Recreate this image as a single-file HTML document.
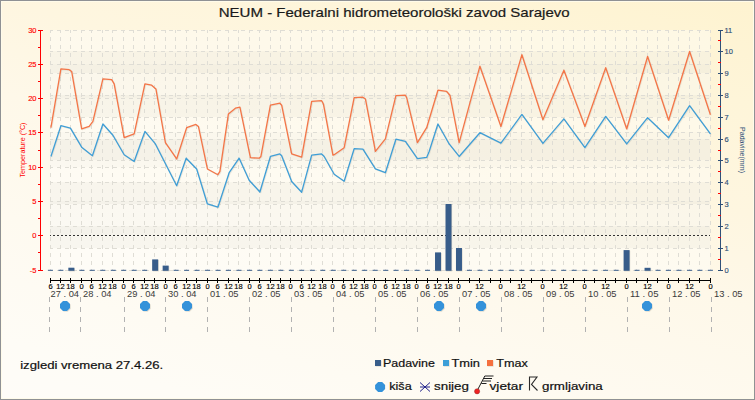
<!DOCTYPE html>
<html><head><meta charset="utf-8"><title>NEUM</title><style>
html,body{margin:0;padding:0;width:755px;height:400px;overflow:hidden;background:#fef8e9}
svg{display:block}
text{font-family:"Liberation Sans",sans-serif}
.la{font-size:7.5px;fill:#ff0000;stroke:#ff0000;stroke-width:0.15px}
.lt{font-size:7px;fill:#ff0000}
.ra{font-size:7.5px;fill:#2f5078;stroke:#2f5078;stroke-width:0.15px}
.rt{font-size:7px;fill:#2f5078}
.hl{font-size:7.5px;fill:#000;stroke:#000;stroke-width:0.15px}
.dl{font-size:9.5px;fill:#3a3a3a}
.ft{font-size:11.5px;fill:#111;stroke:#111;stroke-width:0.2px}
.lg{font-size:11.5px;fill:#111;stroke:#111;stroke-width:0.2px}
.ti{font-size:13px;fill:#1a1a1a;stroke:#1a1a1a;stroke-width:0.2px}
</style></head>
<body><svg width="755" height="400" viewBox="0 0 755 400">
<defs><linearGradient id="bg" gradientUnits="userSpaceOnUse" x1="755" y1="0" x2="592" y2="570"><stop offset="0" stop-color="#fef3d0"/><stop offset="0.17" stop-color="#fef5d9"/><stop offset="0.35" stop-color="#fef6e0"/><stop offset="0.5" stop-color="#fef8e9"/><stop offset="0.7" stop-color="#fefaf0"/><stop offset="0.9" stop-color="#fefcf6"/><stop offset="1" stop-color="#fefcf8"/></linearGradient><linearGradient id="pbg" x1="0" y1="0" x2="0" y2="1"><stop offset="0" stop-color="#fef8ea"/><stop offset="1" stop-color="#fefcf4"/></linearGradient></defs>
<rect x="0" y="0" width="755" height="400" fill="url(#bg)"/>
<rect x="50.0" y="30.0" width="660.0" height="240.0" fill="#ffffff" fill-opacity="0.38"/>
<rect x="50.0" y="51" width="660.0" height="22" fill="#303020" fill-opacity="0.03"/>
<rect x="50.0" y="95" width="660.0" height="22" fill="#303020" fill-opacity="0.03"/>
<rect x="50.0" y="139" width="660.0" height="21" fill="#303020" fill-opacity="0.03"/>
<rect x="50.0" y="182" width="660.0" height="22" fill="#303020" fill-opacity="0.03"/>
<rect x="50.0" y="226" width="660.0" height="22" fill="#303020" fill-opacity="0.03"/>
<rect x="50.0" y="64" width="660.0" height="34" fill="#303020" fill-opacity="0.017"/>
<rect x="50.0" y="132" width="660.0" height="35" fill="#303020" fill-opacity="0.017"/>
<rect x="50.0" y="201" width="660.0" height="34" fill="#303020" fill-opacity="0.017"/>
<path d="M50.5 30.0V270.0M60.5 30.0V270.0M70.5 30.0V270.0M81.5 30.0V270.0M91.5 30.0V270.0M102.5 30.0V270.0M112.5 30.0V270.0M123.5 30.0V270.0M133.5 30.0V270.0M144.5 30.0V270.0M154.5 30.0V270.0M165.5 30.0V270.0M175.5 30.0V270.0M186.5 30.0V270.0M196.5 30.0V270.0M207.5 30.0V270.0M217.5 30.0V270.0M228.5 30.0V270.0M238.5 30.0V270.0M249.5 30.0V270.0M259.5 30.0V270.0M270.5 30.0V270.0M280.5 30.0V270.0M290.5 30.0V270.0M301.5 30.0V270.0M311.5 30.0V270.0M322.5 30.0V270.0M332.5 30.0V270.0M343.5 30.0V270.0M353.5 30.0V270.0M364.5 30.0V270.0M374.5 30.0V270.0M385.5 30.0V270.0M395.5 30.0V270.0M406.5 30.0V270.0M416.5 30.0V270.0M427.5 30.0V270.0M437.5 30.0V270.0M448.5 30.0V270.0M458.5 30.0V270.0M469.5 30.0V270.0M479.5 30.0V270.0M490.5 30.0V270.0M500.5 30.0V270.0M510.5 30.0V270.0M521.5 30.0V270.0M531.5 30.0V270.0M542.5 30.0V270.0M552.5 30.0V270.0M563.5 30.0V270.0M573.5 30.0V270.0M584.5 30.0V270.0M594.5 30.0V270.0M605.5 30.0V270.0M615.5 30.0V270.0M626.5 30.0V270.0M636.5 30.0V270.0M647.5 30.0V270.0M657.5 30.0V270.0M668.5 30.0V270.0M678.5 30.0V270.0M689.5 30.0V270.0M699.5 30.0V270.0M710.5 30.0V270.0" stroke="#dfddd5" stroke-width="1" fill="none" stroke-dasharray="4 4" stroke-dashoffset="1"/>
<path d="M50.0 30.5H710.0M50.0 51.5H710.0M50.0 64.5H710.0M50.0 73.5H710.0M50.0 95.5H710.0M50.0 98.5H710.0M50.0 117.5H710.0M50.0 132.5H710.0M50.0 139.5H710.0M50.0 160.5H710.0M50.0 167.5H710.0M50.0 182.5H710.0M50.0 201.5H710.0M50.0 204.5H710.0M50.0 226.5H710.0M50.0 248.5H710.0M50.0 270.5H710.0" stroke="#dfddd5" stroke-width="1" fill="none" stroke-dasharray="4 4" stroke-dashoffset="1"/>
<path d="M50.0 235.5H710.0" stroke="#333" stroke-width="1" stroke-dasharray="2 2" stroke-dashoffset="1"/>
<rect x="47.90" y="269.80" width="5" height="1.00" fill="#385d8a"/>
<rect x="58.38" y="269.80" width="5" height="1.00" fill="#385d8a"/>
<rect x="68.95" y="268.30" width="6" height="3.10" fill="#b8b4a8" opacity="0.5"/>
<rect x="68.35" y="267.70" width="6" height="3.10" fill="#385d8a"/>
<rect x="79.33" y="269.80" width="5" height="1.00" fill="#385d8a"/>
<rect x="89.80" y="269.80" width="5" height="1.00" fill="#385d8a"/>
<rect x="100.28" y="269.80" width="5" height="1.00" fill="#385d8a"/>
<rect x="110.76" y="269.80" width="5" height="1.00" fill="#385d8a"/>
<rect x="121.23" y="269.80" width="5" height="1.00" fill="#385d8a"/>
<rect x="131.71" y="269.80" width="5" height="1.00" fill="#385d8a"/>
<rect x="142.19" y="269.80" width="5" height="1.00" fill="#385d8a"/>
<rect x="152.76" y="260.00" width="6" height="11.40" fill="#b8b4a8" opacity="0.5"/>
<rect x="152.16" y="259.40" width="6" height="11.40" fill="#385d8a"/>
<rect x="163.24" y="266.20" width="6" height="5.20" fill="#b8b4a8" opacity="0.5"/>
<rect x="162.64" y="265.60" width="6" height="5.20" fill="#385d8a"/>
<rect x="173.61" y="269.80" width="5" height="1.00" fill="#385d8a"/>
<rect x="184.09" y="269.80" width="5" height="1.00" fill="#385d8a"/>
<rect x="194.57" y="269.80" width="5" height="1.00" fill="#385d8a"/>
<rect x="205.04" y="269.80" width="5" height="1.00" fill="#385d8a"/>
<rect x="215.52" y="269.80" width="5" height="1.00" fill="#385d8a"/>
<rect x="226.00" y="269.80" width="5" height="1.00" fill="#385d8a"/>
<rect x="236.47" y="269.80" width="5" height="1.00" fill="#385d8a"/>
<rect x="246.95" y="269.80" width="5" height="1.00" fill="#385d8a"/>
<rect x="257.42" y="269.80" width="5" height="1.00" fill="#385d8a"/>
<rect x="267.90" y="269.80" width="5" height="1.00" fill="#385d8a"/>
<rect x="278.38" y="269.80" width="5" height="1.00" fill="#385d8a"/>
<rect x="288.85" y="269.80" width="5" height="1.00" fill="#385d8a"/>
<rect x="299.33" y="269.80" width="5" height="1.00" fill="#385d8a"/>
<rect x="309.80" y="269.80" width="5" height="1.00" fill="#385d8a"/>
<rect x="320.28" y="269.80" width="5" height="1.00" fill="#385d8a"/>
<rect x="330.76" y="269.80" width="5" height="1.00" fill="#385d8a"/>
<rect x="341.23" y="269.80" width="5" height="1.00" fill="#385d8a"/>
<rect x="351.71" y="269.80" width="5" height="1.00" fill="#385d8a"/>
<rect x="362.19" y="269.80" width="5" height="1.00" fill="#385d8a"/>
<rect x="372.66" y="269.80" width="5" height="1.00" fill="#385d8a"/>
<rect x="383.14" y="269.80" width="5" height="1.00" fill="#385d8a"/>
<rect x="393.61" y="269.80" width="5" height="1.00" fill="#385d8a"/>
<rect x="404.09" y="269.80" width="5" height="1.00" fill="#385d8a"/>
<rect x="414.57" y="269.80" width="5" height="1.00" fill="#385d8a"/>
<rect x="425.04" y="269.80" width="5" height="1.00" fill="#385d8a"/>
<rect x="435.62" y="253.00" width="6" height="18.40" fill="#b8b4a8" opacity="0.5"/>
<rect x="435.02" y="252.40" width="6" height="18.40" fill="#385d8a"/>
<rect x="446.10" y="204.60" width="6" height="66.80" fill="#b8b4a8" opacity="0.5"/>
<rect x="445.50" y="204.00" width="6" height="66.80" fill="#385d8a"/>
<rect x="456.57" y="248.60" width="6" height="22.80" fill="#b8b4a8" opacity="0.5"/>
<rect x="455.97" y="248.00" width="6" height="22.80" fill="#385d8a"/>
<rect x="466.95" y="269.80" width="5" height="1.00" fill="#385d8a"/>
<rect x="477.42" y="269.80" width="5" height="1.00" fill="#385d8a"/>
<rect x="487.90" y="269.80" width="5" height="1.00" fill="#385d8a"/>
<rect x="498.38" y="269.80" width="5" height="1.00" fill="#385d8a"/>
<rect x="508.85" y="269.80" width="5" height="1.00" fill="#385d8a"/>
<rect x="519.33" y="269.80" width="5" height="1.00" fill="#385d8a"/>
<rect x="529.80" y="269.80" width="5" height="1.00" fill="#385d8a"/>
<rect x="540.28" y="269.80" width="5" height="1.00" fill="#385d8a"/>
<rect x="550.76" y="269.80" width="5" height="1.00" fill="#385d8a"/>
<rect x="561.23" y="269.80" width="5" height="1.00" fill="#385d8a"/>
<rect x="571.71" y="269.80" width="5" height="1.00" fill="#385d8a"/>
<rect x="582.19" y="269.80" width="5" height="1.00" fill="#385d8a"/>
<rect x="592.66" y="269.80" width="5" height="1.00" fill="#385d8a"/>
<rect x="603.14" y="269.80" width="5" height="1.00" fill="#385d8a"/>
<rect x="613.61" y="269.80" width="5" height="1.00" fill="#385d8a"/>
<rect x="624.19" y="250.70" width="6" height="20.70" fill="#b8b4a8" opacity="0.5"/>
<rect x="623.59" y="250.10" width="6" height="20.70" fill="#385d8a"/>
<rect x="634.57" y="269.80" width="5" height="1.00" fill="#385d8a"/>
<rect x="645.14" y="268.40" width="6" height="3.00" fill="#b8b4a8" opacity="0.5"/>
<rect x="644.54" y="267.80" width="6" height="3.00" fill="#385d8a"/>
<rect x="655.52" y="269.80" width="5" height="1.00" fill="#385d8a"/>
<rect x="666.00" y="269.80" width="5" height="1.00" fill="#385d8a"/>
<rect x="676.47" y="269.80" width="5" height="1.00" fill="#385d8a"/>
<rect x="686.95" y="269.80" width="5" height="1.00" fill="#385d8a"/>
<rect x="697.42" y="269.80" width="5" height="1.00" fill="#385d8a"/>
<rect x="707.90" y="269.80" width="5" height="1.00" fill="#385d8a"/>
<polyline points="51.70,157.15 61.70,126.40 71.20,128.90 82.45,147.90 93.20,156.40 103.70,124.65 113.70,135.90 124.95,155.40 134.95,162.15 145.70,132.15 156.20,144.65 177.45,186.40 186.95,158.90 197.45,169.65 208.20,204.65 218.70,207.90 229.95,173.40 239.95,158.90 249.95,180.90 260.70,192.65 271.20,157.15 280.70,154.65 282.45,156.40 292.45,182.15 302.45,192.90 312.45,155.90 322.45,154.65 324.95,157.15 334.95,174.90 344.95,181.90 354.95,149.40 363.70,149.90 376.20,169.65 386.20,173.40 396.70,139.90 406.20,142.15 418.20,159.40 427.45,158.15 429.95,152.15 438.70,124.65 449.95,144.65 459.95,157.15 480.70,133.40 501.70,143.90 522.70,115.15 543.70,144.15 564.70,119.65 585.70,148.40 606.50,117.15 627.50,144.65 648.40,118.40 669.40,138.40 690.40,106.40 711.20,134.65" fill="none" stroke="#c0b8a8" stroke-opacity="0.3" stroke-width="1.3" stroke-linejoin="round"/>
<polyline points="50.90,156.45 60.90,125.70 70.40,128.20 81.65,147.20 92.40,155.70 102.90,123.95 112.90,135.20 124.15,154.70 134.15,161.45 144.90,131.45 155.40,143.95 176.65,185.70 186.15,158.20 196.65,168.95 207.40,203.95 217.90,207.20 229.15,172.70 239.15,158.20 249.15,180.20 259.90,191.95 270.40,156.45 279.90,153.95 281.65,155.70 291.65,181.45 301.65,192.20 311.65,155.20 321.65,153.95 324.15,156.45 334.15,174.20 344.15,181.20 354.15,148.70 362.90,149.20 375.40,168.95 385.40,172.70 395.90,139.20 405.40,141.45 417.40,158.70 426.65,157.45 429.15,151.45 437.90,123.95 449.15,143.95 459.15,156.45 479.90,132.70 500.90,143.20 521.90,114.45 542.90,143.45 563.90,118.95 584.90,147.70 605.70,116.45 626.70,143.95 647.60,117.70 668.60,137.70 689.60,105.70 710.40,133.95" fill="none" stroke="#3f9ed6" stroke-width="1.3" stroke-linejoin="round"/>
<polyline points="51.70,128.40 61.70,69.65 69.95,70.40 72.45,72.15 82.45,129.65 89.95,127.15 93.70,122.15 103.70,79.65 112.45,80.40 114.95,84.65 124.95,138.40 134.95,134.65 145.70,84.65 152.45,85.90 156.70,89.65 166.20,143.40 177.45,159.65 187.45,128.40 196.70,125.15 199.20,127.15 208.20,169.65 218.70,175.40 220.70,172.15 229.20,114.65 236.20,108.90 240.70,107.90 251.20,158.40 259.95,158.90 261.70,157.15 271.20,105.90 280.70,103.90 282.45,105.90 292.45,154.65 302.45,157.90 312.45,102.15 322.45,101.40 324.20,104.65 333.70,155.90 334.95,155.40 344.95,148.40 354.95,98.40 363.70,97.90 366.20,99.65 376.20,152.15 386.20,139.65 396.70,96.40 406.20,95.90 407.45,98.40 418.20,143.40 427.45,128.40 438.70,90.90 447.45,92.15 450.70,95.90 459.95,143.40 480.70,66.90 501.70,127.15 522.70,55.40 543.70,120.40 564.70,70.90 585.70,127.15 606.50,68.40 627.50,129.65 648.40,57.15 669.40,120.90 690.40,52.15 711.20,115.40" fill="none" stroke="#c0b8a8" stroke-opacity="0.3" stroke-width="1.3" stroke-linejoin="round"/>
<polyline points="50.90,127.70 60.90,68.95 69.15,69.70 71.65,71.45 81.65,128.95 89.15,126.45 92.90,121.45 102.90,78.95 111.65,79.70 114.15,83.95 124.15,137.70 134.15,133.95 144.90,83.95 151.65,85.20 155.90,88.95 165.40,142.70 176.65,158.95 186.65,127.70 195.90,124.45 198.40,126.45 207.40,168.95 217.90,174.70 219.90,171.45 228.40,113.95 235.40,108.20 239.90,107.20 250.40,157.70 259.15,158.20 260.90,156.45 270.40,105.20 279.90,103.20 281.65,105.20 291.65,153.95 301.65,157.20 311.65,101.45 321.65,100.70 323.40,103.95 332.90,155.20 334.15,154.70 344.15,147.70 354.15,97.70 362.90,97.20 365.40,98.95 375.40,151.45 385.40,138.95 395.90,95.70 405.40,95.20 406.65,97.70 417.40,142.70 426.65,127.70 437.90,90.20 446.65,91.45 449.90,95.20 459.15,142.70 479.90,66.20 500.90,126.45 521.90,54.70 542.90,119.70 563.90,70.20 584.90,126.45 605.70,67.70 626.70,128.95 647.60,56.45 668.60,120.20 689.60,51.45 710.40,114.70" fill="none" stroke="#f47547" stroke-width="1.3" stroke-linejoin="round"/>
<path d="M40.5 30V271" stroke="#ff0000" stroke-width="1"/>
<path d="M38 270.5H43M38 235.5H43M38 201.5H43M38 167.5H43M38 132.5H43M38 98.5H43M38 64.5H43M38 30.5H43M38 252.5H40M38 218.5H40M38 184.5H40M38 150.5H40M38 115.5H40M38 81.5H40M38 47.5H40" stroke="#ff0000" stroke-width="1"/>
<text x="36.5" y="273.2" text-anchor="end" class="la">-5</text>
<text x="36.5" y="238.2" text-anchor="end" class="la">0</text>
<text x="36.5" y="204.2" text-anchor="end" class="la">5</text>
<text x="36.5" y="170.2" text-anchor="end" class="la">10</text>
<text x="36.5" y="135.2" text-anchor="end" class="la">15</text>
<text x="36.5" y="101.2" text-anchor="end" class="la">20</text>
<text x="36.5" y="67.2" text-anchor="end" class="la">25</text>
<text x="36.5" y="33.2" text-anchor="end" class="la">30</text>
<text transform="translate(25.3,150) rotate(-90)" text-anchor="middle" class="lt" textLength="55" lengthAdjust="spacingAndGlyphs">Temperature (°C)</text>
<path d="M720.5 30V271" stroke="#2f5078" stroke-width="1"/>
<path d="M718 270.5H723M718 248.5H723M718 226.5H723M718 204.5H723M718 182.5H723M718 160.5H723M718 139.5H723M718 117.5H723M718 95.5H723M718 73.5H723M718 51.5H723M718 30.5H723" stroke="#2f5078" stroke-width="1"/>
<path d="M718 259.5H721M718 237.5H721M718 215.5H721M718 193.5H721M718 171.5H721M718 150.5H721M718 128.5H721M718 106.5H721M718 84.5H721M718 62.5H721M718 40.5H721" stroke="#ff0000" stroke-width="1"/>
<text x="724.5" y="273.1" class="ra">0</text>
<text x="724.5" y="251.1" class="ra">1</text>
<text x="724.5" y="229.1" class="ra">2</text>
<text x="724.5" y="207.1" class="ra">3</text>
<text x="724.5" y="185.1" class="ra">4</text>
<text x="724.5" y="163.1" class="ra">5</text>
<text x="724.5" y="142.1" class="ra">6</text>
<text x="724.5" y="120.1" class="ra">7</text>
<text x="724.5" y="98.1" class="ra">8</text>
<text x="724.5" y="76.1" class="ra">9</text>
<text x="724.5" y="54.1" class="ra">10</text>
<text x="724.5" y="33.1" class="ra">11</text>
<text transform="translate(740,150) rotate(90)" text-anchor="middle" class="rt" textLength="46" lengthAdjust="spacingAndGlyphs">Padavine(mm)</text>
<path d="M50.0 280.5H711.0" stroke="#000" stroke-width="1"/>
<path d="M50.5 278V283M60.5 278V283M70.5 278V283M81.5 278V283M91.5 278V283M102.5 278V283M112.5 278V283M123.5 278V283M133.5 278V283M144.5 278V283M154.5 278V283M165.5 278V283M175.5 278V283M186.5 278V283M196.5 278V283M207.5 278V283M217.5 278V283M228.5 278V283M238.5 278V283M249.5 278V283M259.5 278V283M270.5 278V283M280.5 278V283M290.5 278V283M301.5 278V283M311.5 278V283M322.5 278V283M332.5 278V283M343.5 278V283M353.5 278V283M364.5 278V283M374.5 278V283M385.5 278V283M395.5 278V283M406.5 278V283M416.5 278V283M427.5 278V283M437.5 278V283M448.5 278V283M458.5 278V283M469.5 278V283M479.5 278V283M490.5 278V283M500.5 278V283M510.5 278V283M521.5 278V283M531.5 278V283M542.5 278V283M552.5 278V283M563.5 278V283M573.5 278V283M584.5 278V283M594.5 278V283M605.5 278V283M615.5 278V283M626.5 278V283M636.5 278V283M647.5 278V283M657.5 278V283M668.5 278V283M678.5 278V283M689.5 278V283M699.5 278V283M710.5 278V283" stroke="#000" stroke-width="1"/>
<text x="50.50" y="288.6" text-anchor="middle" class="hl">6</text>
<text x="60.50" y="288.6" text-anchor="middle" class="hl">12</text>
<text x="70.50" y="288.6" text-anchor="middle" class="hl">18</text>
<text x="81.50" y="288.6" text-anchor="middle" class="hl">0</text>
<text x="91.50" y="288.6" text-anchor="middle" class="hl">6</text>
<text x="102.50" y="288.6" text-anchor="middle" class="hl">12</text>
<text x="112.50" y="288.6" text-anchor="middle" class="hl">18</text>
<text x="123.50" y="288.6" text-anchor="middle" class="hl">0</text>
<text x="133.50" y="288.6" text-anchor="middle" class="hl">6</text>
<text x="144.50" y="288.6" text-anchor="middle" class="hl">12</text>
<text x="154.50" y="288.6" text-anchor="middle" class="hl">18</text>
<text x="165.50" y="288.6" text-anchor="middle" class="hl">0</text>
<text x="175.50" y="288.6" text-anchor="middle" class="hl">6</text>
<text x="186.50" y="288.6" text-anchor="middle" class="hl">12</text>
<text x="196.50" y="288.6" text-anchor="middle" class="hl">18</text>
<text x="207.50" y="288.6" text-anchor="middle" class="hl">0</text>
<text x="217.50" y="288.6" text-anchor="middle" class="hl">6</text>
<text x="228.50" y="288.6" text-anchor="middle" class="hl">12</text>
<text x="238.50" y="288.6" text-anchor="middle" class="hl">18</text>
<text x="249.50" y="288.6" text-anchor="middle" class="hl">0</text>
<text x="259.50" y="288.6" text-anchor="middle" class="hl">6</text>
<text x="270.50" y="288.6" text-anchor="middle" class="hl">12</text>
<text x="280.50" y="288.6" text-anchor="middle" class="hl">18</text>
<text x="290.50" y="288.6" text-anchor="middle" class="hl">0</text>
<text x="301.50" y="288.6" text-anchor="middle" class="hl">6</text>
<text x="311.50" y="288.6" text-anchor="middle" class="hl">12</text>
<text x="322.50" y="288.6" text-anchor="middle" class="hl">18</text>
<text x="332.50" y="288.6" text-anchor="middle" class="hl">0</text>
<text x="343.50" y="288.6" text-anchor="middle" class="hl">6</text>
<text x="353.50" y="288.6" text-anchor="middle" class="hl">12</text>
<text x="364.50" y="288.6" text-anchor="middle" class="hl">18</text>
<text x="374.50" y="288.6" text-anchor="middle" class="hl">0</text>
<text x="385.50" y="288.6" text-anchor="middle" class="hl">6</text>
<text x="395.50" y="288.6" text-anchor="middle" class="hl">12</text>
<text x="406.50" y="288.6" text-anchor="middle" class="hl">18</text>
<text x="416.50" y="288.6" text-anchor="middle" class="hl">0</text>
<text x="427.50" y="288.6" text-anchor="middle" class="hl">6</text>
<text x="437.50" y="288.6" text-anchor="middle" class="hl">12</text>
<text x="448.50" y="288.6" text-anchor="middle" class="hl">18</text>
<text x="458.50" y="288.6" text-anchor="middle" class="hl">0</text>
<text x="479.50" y="288.6" text-anchor="middle" class="hl">12</text>
<text x="500.50" y="288.6" text-anchor="middle" class="hl">0</text>
<text x="521.50" y="288.6" text-anchor="middle" class="hl">12</text>
<text x="542.50" y="288.6" text-anchor="middle" class="hl">0</text>
<text x="563.50" y="288.6" text-anchor="middle" class="hl">12</text>
<text x="584.50" y="288.6" text-anchor="middle" class="hl">0</text>
<text x="605.50" y="288.6" text-anchor="middle" class="hl">12</text>
<text x="626.50" y="288.6" text-anchor="middle" class="hl">0</text>
<text x="647.50" y="288.6" text-anchor="middle" class="hl">12</text>
<text x="668.50" y="288.6" text-anchor="middle" class="hl">0</text>
<text x="689.50" y="288.6" text-anchor="middle" class="hl">12</text>
<text x="710.50" y="288.6" text-anchor="middle" class="hl">0</text>
<text x="50.50" y="296.6" class="dl" textLength="28.5" lengthAdjust="spacingAndGlyphs">27 . 04</text>
<text x="83.00" y="296.6" class="dl" textLength="28.5" lengthAdjust="spacingAndGlyphs">28 . 04</text>
<text x="127.00" y="296.6" class="dl" textLength="28.5" lengthAdjust="spacingAndGlyphs">29 . 04</text>
<text x="168.00" y="296.6" class="dl" textLength="28.5" lengthAdjust="spacingAndGlyphs">30 . 04</text>
<text x="210.00" y="296.6" class="dl" textLength="28.5" lengthAdjust="spacingAndGlyphs">01 . 05</text>
<text x="252.00" y="296.6" class="dl" textLength="28.5" lengthAdjust="spacingAndGlyphs">02 . 05</text>
<text x="294.00" y="296.6" class="dl" textLength="28.5" lengthAdjust="spacingAndGlyphs">03 . 05</text>
<text x="336.00" y="296.6" class="dl" textLength="28.5" lengthAdjust="spacingAndGlyphs">04 . 05</text>
<text x="378.00" y="296.6" class="dl" textLength="28.5" lengthAdjust="spacingAndGlyphs">05 . 05</text>
<text x="420.00" y="296.6" class="dl" textLength="28.5" lengthAdjust="spacingAndGlyphs">06 . 05</text>
<text x="462.00" y="296.6" class="dl" textLength="28.5" lengthAdjust="spacingAndGlyphs">07 . 05</text>
<text x="504.00" y="296.6" class="dl" textLength="28.5" lengthAdjust="spacingAndGlyphs">08 . 05</text>
<text x="546.00" y="296.6" class="dl" textLength="28.5" lengthAdjust="spacingAndGlyphs">09 . 05</text>
<text x="588.00" y="296.6" class="dl" textLength="28.5" lengthAdjust="spacingAndGlyphs">10 . 05</text>
<text x="630.00" y="296.6" class="dl" textLength="28.5" lengthAdjust="spacingAndGlyphs">11 . 05</text>
<text x="672.00" y="296.6" class="dl" textLength="28.5" lengthAdjust="spacingAndGlyphs">12 . 05</text>
<text x="714.00" y="296.6" class="dl" textLength="28.5" lengthAdjust="spacingAndGlyphs">13 . 05</text>
<path d="M49.5 297V332M80.5 297V332M124.5 297V332M165.5 297V332M207.5 297V332M249.5 297V332M291.5 297V332M333.5 297V332M375.5 297V332M417.5 297V332M459.5 297V332M501.5 297V332M543.5 297V332M585.5 297V332M627.5 297V332M669.5 297V332M711.5 297V332" stroke="#b2b2b2" stroke-width="1" stroke-dasharray="5 5"/>
<polygon points="63.8,301.8 67.8,301.8 70.8,304.8 70.8,308.8 67.8,311.8 63.8,311.8 60.8,308.8 60.8,304.8" fill="#b0a898" opacity="0.35"/>
<polygon points="63,301 67,301 70,304 70,308 67,311 63,311 60,308 60,304" fill="#3492da"/>
<polygon points="143.8,301.8 147.8,301.8 150.8,304.8 150.8,308.8 147.8,311.8 143.8,311.8 140.8,308.8 140.8,304.8" fill="#b0a898" opacity="0.35"/>
<polygon points="143,301 147,301 150,304 150,308 147,311 143,311 140,308 140,304" fill="#3492da"/>
<polygon points="185.8,301.8 189.8,301.8 192.8,304.8 192.8,308.8 189.8,311.8 185.8,311.8 182.8,308.8 182.8,304.8" fill="#b0a898" opacity="0.35"/>
<polygon points="185,301 189,301 192,304 192,308 189,311 185,311 182,308 182,304" fill="#3492da"/>
<polygon points="437.8,301.8 441.8,301.8 444.8,304.8 444.8,308.8 441.8,311.8 437.8,311.8 434.8,308.8 434.8,304.8" fill="#b0a898" opacity="0.35"/>
<polygon points="437,301 441,301 444,304 444,308 441,311 437,311 434,308 434,304" fill="#3492da"/>
<polygon points="479.8,301.8 483.8,301.8 486.8,304.8 486.8,308.8 483.8,311.8 479.8,311.8 476.8,308.8 476.8,304.8" fill="#b0a898" opacity="0.35"/>
<polygon points="479,301 483,301 486,304 486,308 483,311 479,311 476,308 476,304" fill="#3492da"/>
<polygon points="645.8,301.8 649.8,301.8 652.8,304.8 652.8,308.8 649.8,311.8 645.8,311.8 642.8,308.8 642.8,304.8" fill="#b0a898" opacity="0.35"/>
<polygon points="645,301 649,301 652,304 652,308 649,311 645,311 642,308 642,304" fill="#3492da"/>
<text x="20.2" y="368.8" class="ft" textLength="143" lengthAdjust="spacingAndGlyphs">izgledi vremena 27.4.26.</text>
<rect x="375.6" y="360.6" width="6" height="6" fill="#b0a898" opacity="0.4"/>
<rect x="375" y="360" width="6" height="6" fill="#385d8a"/>
<text x="383" y="366.8" class="lg" textLength="52" lengthAdjust="spacingAndGlyphs">Padavine</text>
<rect x="443.6" y="360.6" width="6" height="6" fill="#b0a898" opacity="0.4"/>
<rect x="443" y="360" width="6" height="6" fill="#3c9fd8"/>
<text x="451.5" y="366.8" class="lg" textLength="28.5" lengthAdjust="spacingAndGlyphs">Tmin</text>
<rect x="487.6" y="360.6" width="6" height="6" fill="#b0a898" opacity="0.4"/>
<rect x="487" y="360" width="6" height="6" fill="#f5703f"/>
<text x="496.3" y="366.8" class="lg" textLength="31.5" lengthAdjust="spacingAndGlyphs">Tmax</text>
<polygon points="378.1,382 382.1,382 385.1,385 385.1,389 382.1,392 378.1,392 375.1,389 375.1,385" fill="#3492da"/>
<text x="389.2" y="390.3" class="lg" textLength="22.5" lengthAdjust="spacingAndGlyphs">kiša</text>
<path d="M420 382.5L430 391.5M430 382.5L420 391.5M420 387H430" stroke="#22228a" stroke-width="1" fill="none"/>
<text x="434" y="390" class="lg" textLength="35" lengthAdjust="spacingAndGlyphs">snijeg</text>
<path d="M477.5 390L484.8 376H493.5M483.6 378.5H492M482.5 381H491M481.3 383.5H486.5" stroke="#222" stroke-width="1" fill="none"/>
<circle cx="477.1" cy="391.3" r="2.6" fill="#ee2222" stroke="#802020" stroke-width="0.4"/>
<text x="489.5" y="390" class="lg" textLength="33.5" lengthAdjust="spacingAndGlyphs">vjetar</text>
<path d="M529.5 376.5V390.5M529 377H537L531.5 384.5L537.5 390.5" stroke="#2a2a2a" stroke-width="1.1" fill="none"/>
<text x="542" y="389.8" class="lg" textLength="60.8" lengthAdjust="spacingAndGlyphs">grmljavina</text>
<text x="218.7" y="17" class="ti" textLength="351" lengthAdjust="spacingAndGlyphs">NEUM - Federalni hidrometeorološki zavod Sarajevo</text>
<rect x="0.5" y="0.5" width="754" height="399" fill="none" stroke="#8f9194" stroke-width="1"/>
<rect x="1.5" y="1.5" width="752" height="397" fill="none" stroke="#fffbea" stroke-width="1"/>
</svg></body></html>
